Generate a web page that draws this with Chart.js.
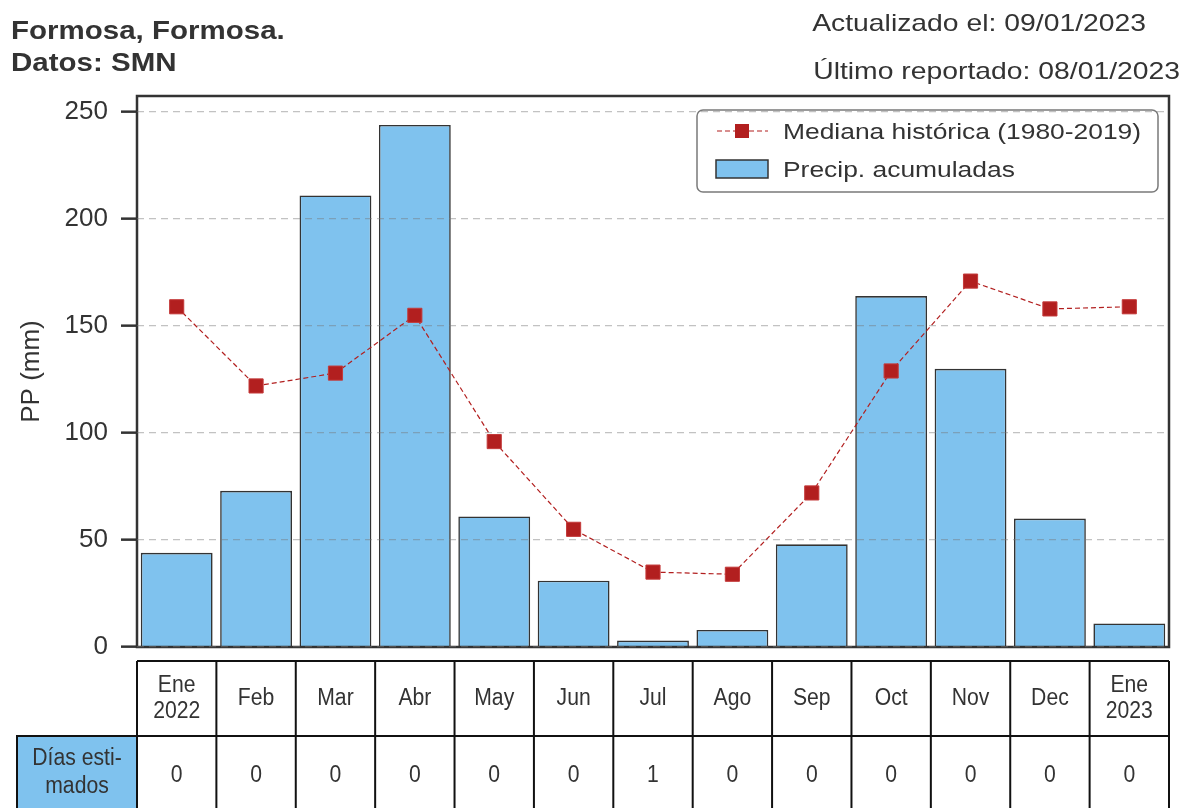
<!DOCTYPE html>
<html>
<head>
<meta charset="utf-8">
<script src="https://cdn.jsdelivr.net/npm/chart.js@4.4.1/dist/chart.umd.min.js"></script>
<style>
  body { margin: 0; background: #fff; }
  #wrap { width: 1184px; height: 808px; }
</style>
</head>
<body>
<div id="wrap"><canvas id="ppChart" width="1184" height="808"></canvas></div>
<script>
const months = ["Ene\n2022", "Feb", "Mar", "Abr", "May", "Jun", "Jul", "Ago", "Sep", "Oct", "Nov", "Dec", "Ene\n2023"];
const precip = [44, 73, 211, 244, 61, 31, 3, 8, 48, 164, 130, 60, 11];
const median = [159, 122, 128, 155, 96, 55, 35, 34, 72, 129, 171, 158, 159];
const estDays = [0, 0, 0, 0, 0, 0, 1, 0, 0, 0, 0, 0, 0];
const yTicks = [0, 50, 100, 150, 200, 250];

const BAR_COLOR = "#7fc2ee";
const EDGE = "#333333";
const RED = "#b21f1f";
const FONT = "'Liberation Sans', Arial, sans-serif";

// text with a horizontal stretch, the reference glyphs are wider than plain Arial
function drawText(ctx, s, x, y, size, opts = {}) {
  ctx.save();
  ctx.font = (opts.bold ? "bold " : "") + size + "px " + FONT;
  ctx.fillStyle = opts.color || "#333";
  ctx.textAlign = opts.align || "left";
  ctx.textBaseline = "alphabetic";
  ctx.translate(x, y);
  ctx.scale(opts.sx || 1, 1);
  ctx.fillText(s, 0, 0);
  ctx.restore();
}

const decorPlugin = {
  id: "decor",
  afterDatasetsDraw(chart) {
    const { ctx, chartArea } = chart;
    const xs = chart.scales.x;

    // axes frame
    ctx.save();
    ctx.strokeStyle = EDGE;
    ctx.lineWidth = 2.5;
    ctx.strokeRect(chartArea.left, chartArea.top, chartArea.right - chartArea.left, chartArea.bottom - chartArea.top);
    ctx.restore();

    // legend box
    const lx = 697, ly = 110, lw = 461, lh = 82;
    ctx.save();
    ctx.beginPath();
    ctx.roundRect(lx, ly, lw, lh, 6);
    ctx.fillStyle = "rgba(255,255,255,0.85)";
    ctx.fill();
    ctx.strokeStyle = "#7a7a7a";
    ctx.lineWidth = 1.5;
    ctx.stroke();

    ctx.strokeStyle = RED;
    ctx.lineWidth = 1.2;
    ctx.setLineDash([5, 3]);
    ctx.beginPath();
    ctx.moveTo(717, 131);
    ctx.lineTo(768, 131);
    ctx.stroke();
    ctx.setLineDash([]);
    ctx.fillStyle = RED;
    ctx.fillRect(735, 124, 14, 14);

    ctx.fillStyle = BAR_COLOR;
    ctx.fillRect(716, 160, 52, 18);
    ctx.strokeStyle = EDGE;
    ctx.lineWidth = 1.5;
    ctx.strokeRect(716, 160, 52, 18);
    ctx.restore();

    drawText(ctx, "Mediana histórica (1980-2019)", 783, 139, 22, { sx: 1.2 });
    drawText(ctx, "Precip. acumuladas", 783, 177, 22, { sx: 1.2 });

    // table under the axis
    const colW = (chartArea.right - chartArea.left) / months.length;
    const r0 = 661, r1 = 736, r2 = 812;
    ctx.save();
    ctx.fillStyle = BAR_COLOR;
    ctx.fillRect(17, r1, chartArea.left - 17, r2 - r1);
    ctx.strokeStyle = "#111";
    ctx.lineWidth = 2;
    ctx.strokeRect(17, r1, chartArea.left - 17, r2 - r1);
    ctx.beginPath();
    for (let i = 0; i <= months.length; i++) {
      const xx = chartArea.left + i * colW;
      ctx.moveTo(xx, r0);
      ctx.lineTo(xx, r2);
    }
    ctx.moveTo(chartArea.left, r0); ctx.lineTo(chartArea.right, r0);
    ctx.moveTo(chartArea.left, r1); ctx.lineTo(chartArea.right, r1);
    ctx.stroke();
    ctx.restore();

    drawText(ctx, "Días esti-", 77, 765, 23, { align: "center", sx: 0.92 });
    drawText(ctx, "mados", 77, 793, 23, { align: "center", sx: 0.92 });

    months.forEach((m, i) => {
      const cx = xs.getPixelForValue(i);
      const lines = m.split("\n");
      if (lines.length === 2) {
        drawText(ctx, lines[0], cx, 692, 23, { align: "center", sx: 0.92 });
        drawText(ctx, lines[1], cx, 718, 23, { align: "center", sx: 0.92 });
      } else {
        drawText(ctx, m, cx, 705, 23, { align: "center", sx: 0.92 });
      }
      drawText(ctx, String(estDays[i]), cx, 782, 23, { align: "center", sx: 0.92 });
    });

    // header texts
    drawText(ctx, "Formosa, Formosa.", 11, 39, 25, { bold: true, sx: 1.18 });
    drawText(ctx, "Datos: SMN", 11, 71, 25, { bold: true, sx: 1.18 });
    drawText(ctx, "Actualizado el: 09/01/2023", 1146, 31, 24, { align: "right", sx: 1.18 });
    drawText(ctx, "Último reportado: 08/01/2023", 1180, 79, 24, { align: "right", sx: 1.18 });
  }
};

const ctx = document.getElementById("ppChart").getContext("2d");
const chart = new Chart(ctx, {
  type: "bar",
  data: {
    labels: months,
    datasets: [
      {
        type: "line",
        label: "Mediana histórica (1980-2019)",
        data: median,
        borderColor: RED,
        borderWidth: 1.2,
        borderDash: [5, 3],
        pointStyle: "rect",
        pointRadius: 10,
        pointBackgroundColor: RED,
        pointBorderColor: "#c43a3a",
        pointBorderWidth: 1,
        tension: 0,
        order: 0
      },
      {
        label: "Precip. acumuladas",
        data: precip,
        backgroundColor: BAR_COLOR,
        borderColor: EDGE,
        borderWidth: 1.6,
        barPercentage: 0.905,
        categoryPercentage: 1,
        order: 1
      }
    ]
  },
  options: {
    responsive: false,
    animation: false,
    layout: { padding: { left: 0, top: 96, right: 15, bottom: 161 } },
    plugins: {
      legend: { display: false },
      tooltip: { enabled: false }
    },
    scales: {
      x: {
        display: false,
        offset: true
      },
      y: {
        min: 0,
        max: 257.5,
        afterFit: s => { s.width = 137; },
        afterBuildTicks: s => { s.ticks = yTicks.map(v => ({ value: v })); },
        ticks: {
          stepSize: 50,
          color: "#333",
          padding: 13,
          font: { family: FONT, size: 26 }
        },
        grid: {
          z: 1,
          color: "rgba(120,120,120,0.45)",
          lineWidth: 1.3,
          tickColor: EDGE,
          tickLength: 16,
          tickWidth: 2.5,
          tickBorderDash: []
        },
        border: { display: false, dash: [7, 5] },
        title: {
          display: true,
          text: "PP (mm)",
          color: "#333",
          font: { family: FONT, size: 26 },
          padding: { top: 16, bottom: 0 }
        }
      }
    }
  },
  plugins: [decorPlugin]
});
</script>
</body>
</html>
